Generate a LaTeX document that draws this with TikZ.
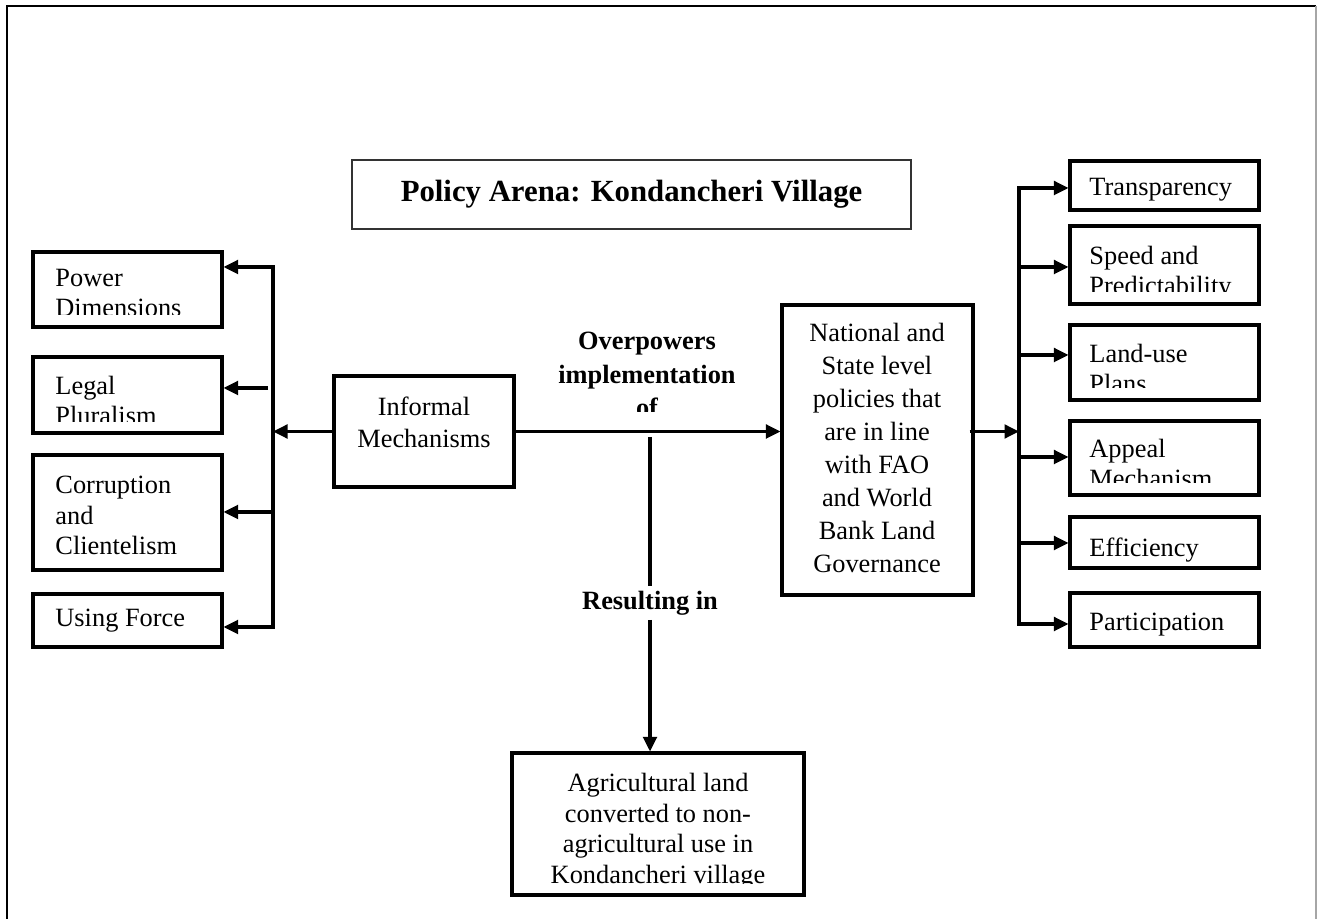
\documentclass[tikz,border=0pt]{standalone}
\usepackage{fontspec}
\setmainfont{Liberation Serif}
\usetikzlibrary{arrows.meta,positioning,fit}

\tikzset{
  box/.style={draw, line width=1.4pt, inner sep=0pt},
  tbox/.style={draw=black!80, line width=0.7pt, inner sep=0pt},
  txt/.style={inner sep=0pt, anchor=north west, align=left, font=\fontsize{12}{13.7}\selectfont},
  ctxt/.style={inner sep=0pt, anchor=north, align=center, font=\fontsize{12}{14.6}\selectfont},
  lbl/.style={inner sep=0pt, align=center, font=\bfseries\fontsize{12}{15.2}\selectfont},
  line/.style={line width=1.4pt},
  arr/.style={line width=1.4pt, -{Triangle[length=6.6pt,width=6.2pt]}},
  arrs/.style={line width=1.4pt, {Triangle[length=6.6pt,width=6.2pt]}-{Triangle[length=6.6pt,width=6.2pt]}}
}

\begin{document}
\begin{tikzpicture}[x=0.455pt,y=-0.455pt]
    \useasboundingbox (0,0) rectangle (1317,919);
    % page frame
    \draw[line width=1pt] (7,919) -- (7,6) -- (1316,6);
    \draw[black!35, line width=0.6pt] (1316,6) -- (1316,919);

    % title
    \node[tbox, fit={(352,160) (911,229)}] (title) {};
    \node[inner sep=0pt, font=\bfseries\fontsize{14}{16}\selectfont] (titleT) at (title.center) {Policy Arena: Kondancheri Village};

    % boxes
    \node[box, fit={(33,252) (222,327)}] (power) {};
    \node[box, fit={(33,357) (222,433)}] (legal) {};
    \node[box, fit={(33,455) (222,570)}] (corrupt) {};
    \node[box, fit={(33,594) (222,647)}] (force) {};
    \node[box, fit={(334,376) (514,487)}] (informal) {};
    \node[box, fit={(782,305) (973,595)}] (national) {};
    \node[box, fit={(512,753) (804,895)}] (agri) {};
    \node[box, fit={(1070,161) (1259,210)}] (transp) {};
    \node[box, fit={(1070,226) (1259,304)}] (speed) {};
    \node[box, fit={(1070,325) (1259,400)}] (landuse) {};
    \node[box, fit={(1070,421) (1259,495)}] (appeal) {};
    \node[box, fit={(1070,517) (1259,568)}] (effic) {};
    \node[box, fit={(1070,593) (1259,647)}] (partic) {};

    % texts
    \begin{scope}
      \clip (33,252) rectangle (222,315);
      \node[txt] (powerT) at (55,269) {Power\\Dimensions};
    \end{scope}
    \begin{scope}
      \clip (33,357) rectangle (222,422);
      \node[txt] (legalT) at (55,376) {Legal\\Pluralism};
    \end{scope}
    \node[txt] (corruptT) at (55,476) {Corruption\\and\\Clientelism};
    \node[txt] (forceT) at (55,609) {Using Force};
    \node[ctxt] (informalT) at (424,396) {Informal\\Mechanisms};
    \node[ctxt, font=\fontsize{12}{15}\selectfont] (nationalT) at (877,323)
      {National and\\State level\\policies that\\are in line\\with FAO\\and World\\Bank Land\\Governance};
    \begin{scope}
      \clip (512,753) rectangle (804,883);
      \node[ctxt, font=\fontsize{12}{13.9}\selectfont] (agriT) at (658,773) {Agricultural land\\converted to non-\\agricultural use in\\Kondancheri village};
    \end{scope}
    \node[txt] (transpT) at (1089,178) {Transparency};
    \begin{scope}
      \clip (1070,226) rectangle (1259,292);
      \node[txt] (speedT) at (1089,246) {Speed and\\Predictability};
    \end{scope}
    \begin{scope}
      \clip (1070,325) rectangle (1259,388);
      \node[txt] (landuseT) at (1089,344) {Land-use\\Plans};
    \end{scope}
    \begin{scope}
      \clip (1070,421) rectangle (1259,483);
      \node[txt] (appealT) at (1089,439) {Appeal\\Mechanism};
    \end{scope}
    \node[txt] (efficT) at (1089,537) {Efficiency};
    \node[txt] (particT) at (1089,613) {Participation};

    % labels on the middle line
    \begin{scope}
      \clip (520,300) rectangle (780,412);
      \node[lbl, anchor=north] (over) at (647,332) {Overpowers\\implementation\\of};
    \end{scope}
    \node[lbl, minimum height=15pt] (result) at (650,603) {Resulting in};

    % trunk points
    \coordinate (lt) at (273,267);
    \coordinate (lb) at (273,627);
    \coordinate (l2) at (268,388);
    \coordinate (l3) at (273,512);
    \coordinate (rt) at (1019,188);
    \coordinate (rb) at (1019,624);
    \coordinate (r2) at (1019,267);
    \coordinate (r3) at (1019,355);
    \coordinate (r4) at (1019,457);
    \coordinate (r5) at (1019,543);
    \coordinate (split) at (650,437);

    % left side
    \draw[arrs] (power.east |- lt) -| (lb) -- (force.east |- lb);
    \draw[arr] (l2) -- (l2 -| legal.east);
    \draw[arr] (l3) -- (l3 -| corrupt.east);
    \draw[arr] (informal.west) -- (informal.west -| lt);

    % middle
    \draw[arr] (informal.east) -- (informal.east -| national.west);
    \draw[line] (split) -- (result.north);
    \draw[arr] (result.south) -- (result.south |- agri.north);

    % right side
    \draw[arrs] (transp.west |- rt) -| (rb) -- (partic.west |- rb);
    \draw[arr] (r2) -- (r2 -| speed.west);
    \draw[arr] (r3) -- (r3 -| landuse.west);
    \draw[arr] (r4) -- (r4 -| appeal.west);
    \draw[arr] (r5) -- (r5 -| effic.west);
    \draw[arr] ([xshift=-2.2pt]national.east |- informal.east) -- (informal.east -| rt);
\end{tikzpicture}
\end{document}
